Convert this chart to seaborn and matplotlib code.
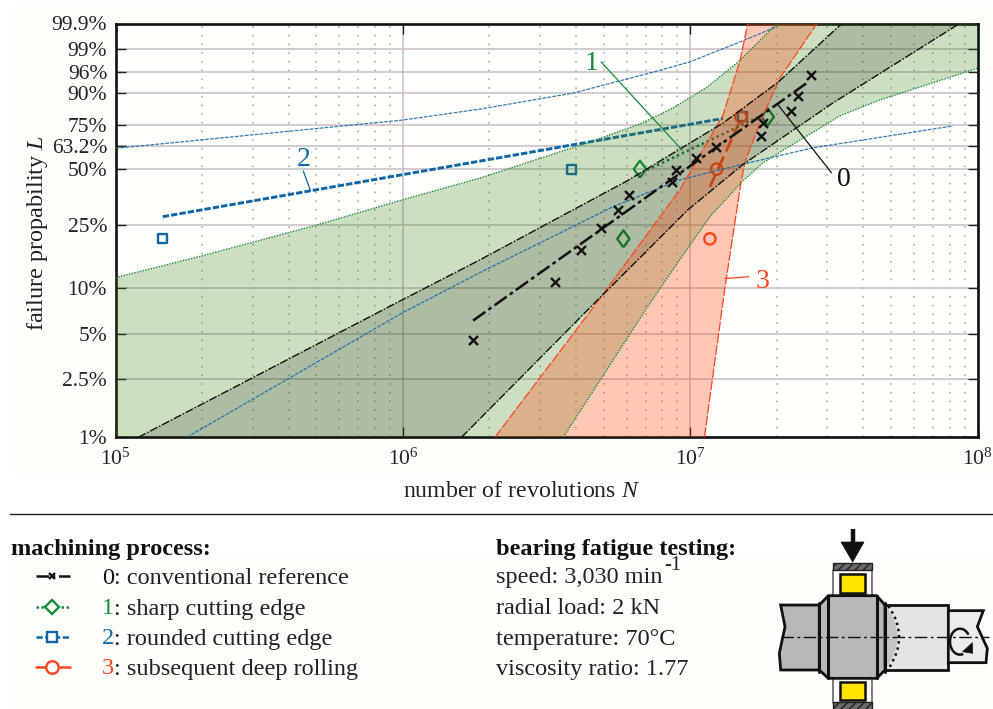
import matplotlib
matplotlib.use("Agg")
import matplotlib.pyplot as plt
import numpy as np
import pandas as pd
import seaborn as sns
from matplotlib.patches import Arc, PathPatch, Polygon, Rectangle
from matplotlib.path import Path

# measured points, N = revolutions, L = failure probability in %
ref_N = [1.755e6, 3.385e6, 4.157e6, 4.89e6, 5.59e6, 6.11e6, 8.65e6, 8.89e6,
         1.049e7, 1.228e7, 1.76e7, 1.793e7, 2.233e7, 2.373e7, 2.62e7]
ref_L = [4.53, 11.0, 17.7, 23.9, 30.3, 37.0, 43.4, 49.6, 56.1, 62.8, 69.1, 76.1, 82.4, 88.8, 95.3]
rank_L = [20.6, 50, 79.4]
sharp_N = [5.85e6, 6.68e6, 1.86e7]
round_N = [1.46e5, 3.85e6, 1.52e7]
roll_N = [1.17e7, 1.235e7, 1.50e7]

# fitted lines
fit0_N, fit0_L = [1.755e6, 2.565e7], [6.15, 93.5]
fit1_N, fit1_L = [7.07e6, 1.79e7], [49.5, 80.4]
fit2_N, fit2_L = [1.46e5, 1.30e7], [27.9, 78.6]
fit3_N, fit3_L = [1.17e7, 1.51e7], [40.8, 79.4]

# confidence bands
b0_up_N = [1.20e5, 1.00e6, 1.86e6, 6.03e6, 1.30e7, 2.02e7, 3.37e7]
b0_up_L = [1, 8.47, 15.3, 43.8, 76.2, 93.5, 99.9]
b0_lo_N = [1.60e6, 4.48e6, 9.82e6, 1.52e7, 3.13e7, 8.65e7]
b0_lo_L = [1, 7.5, 30.6, 52.4, 86.0, 99.9]
b1_up_N = [1e5, 2.01e5, 5.04e5, 1e6, 1.86e6, 4.48e6, 6.68e6, 8.70e6, 1.143e7, 1.49e7, 2.00e7]
b1_up_L = [11.75, 16.2, 25.0, 34.8, 45.3, 65.5, 75.7, 83.8, 92.0, 97.9, 99.9]
b1_lo_N = [3.61e6, 7.07e6, 9.2e6, 1.17e7, 1.50e7, 1.79e7, 2.17e7, 2.76e7, 3.31e7, 4.56e7, 1e8]
b1_lo_L = [1, 7.5, 15.3, 27.9, 42.8, 53.5, 62.1, 72.4, 79.9, 87.3, 96.7]
b2_up_N = [1e5, 1e6, 1.86e6, 3.91e6, 7.84e6, 9.97e6, 1.49e7, 2.00e7]
b2_up_L = [61.8, 77.8, 83.3, 90.0, 96.3, 97.7, 99.43, 99.86]
b2_lo_N = [1.77e5, 1e6, 1.86e6, 5.38e6, 9.2e6, 1.49e7, 2.67e7, 8.19e7]
b2_lo_L = [1, 6.95, 12.7, 31.8, 44.3, 52.4, 62.1, 74.6]
b3_up_N = [2.09e6, 4.59e6, 9.2e6, 1.30e7, 1.49e7, 1.585e7]
b3_up_L = [1, 7.5, 39.3, 80.4, 97.9, 99.9]
b3_lo_N = [1.12e7, 1.32e7, 1.50e7, 1.55e7, 1.746e7, 2.05e7, 2.76e7]
b3_lo_L = [1, 10.1, 42.8, 54.0, 76.2, 94.6, 99.9]

y_ticks = [1, 2.5, 5, 10, 25, 50, 63.2, 75, 90, 96, 99, 99.9]
y_labels = ["1%", "2.5%", "5%", "10%", "25%", "50%", "63.2%", "75%", "90%", "96%", "99%", "99.9%"]
x_ticks = [1e5, 1e6, 1e7, 1e8]
x_labels = ["$10^{5}$", "$10^{6}$", "$10^{7}$", "$10^{8}$"]

BLACK = "#111111"
GREEN = "#158a3a"
BLUE = "#0f66a8"
RED = "#ff4422"
SERIF = "Liberation Serif"

sns.set_theme(style="ticks")
plt.rcParams["font.family"] = [SERIF, "DejaVu Serif"]
plt.rcParams["mathtext.fontset"] = "custom"
plt.rcParams["mathtext.rm"] = SERIF
plt.rcParams["mathtext.it"] = SERIF + ":italic"


def weibull(p):
    p = np.clip(np.asarray(p, dtype=float), 1e-6, 100 - 1e-6)
    return np.log(-np.log(1 - p / 100))


def weibull_inv(y):
    return 100 * (1 - np.exp(-np.exp(np.asarray(y, dtype=float))))


def line(ax, x, y, **kw):
    df = pd.DataFrame({"N": x, "L": y})
    sns.lineplot(data=df, x="N", y="L", sort=False, estimator=None, errorbar=None, ax=ax, **kw)


def points(ax, x, y, **kw):
    df = pd.DataFrame({"N": x, "L": y})
    sns.scatterplot(data=df, x="N", y="L", ax=ax, **kw)


fig = plt.figure(figsize=(9.93, 7.09), dpi=100, facecolor="white")
for y0, y1 in [(5, 477), (555, 709)]:
    fig.add_artist(Rectangle((10 / 993, 1 - y1 / 709), 983 / 993, (y1 - y0) / 709,
                             transform=fig.transFigure, color="#fefefb", lw=0, zorder=-5))

ax = fig.add_axes([115.5 / 993, 1 - 437.3 / 709, 862.2 / 993, 413.8 / 709])
ax.set_facecolor("#fffffb")

# fits and points lie under the bands
line(ax, fit2_N, fit2_L, color=BLUE, linewidth=2.1, linestyle=(0, (2.2, 0.7)), zorder=2)
line(ax, fit3_N, fit3_L, color=RED, linewidth=2, linestyle=(0, (5, 2)), zorder=2)
line(ax, fit1_N, fit1_L, color=GREEN, linewidth=1.8, linestyle=(0, (1, 1.2)), zorder=2)
points(ax, round_N, rank_L, marker="s", s=42, facecolor="none", edgecolor=BLUE, linewidth=1.7, zorder=2)
points(ax, roll_N, rank_L, marker="o", s=66, facecolor="none", edgecolor=RED, linewidth=1.7, zorder=2)
points(ax, sharp_N, rank_L, marker=[(0, -1), (0.72, 0), (0, 1), (-0.72, 0), (0, -1)], s=150,
       facecolor="none", edgecolor=GREEN, linewidth=1.7, zorder=2)

# bands
ax.fill(b1_up_N + [1e8] + b1_lo_N[::-1] + [1e5], b1_up_L + [99.9] + b1_lo_L[::-1] + [1],
        color="#378313", alpha=0.25, lw=0, zorder=3)
ax.fill(b0_up_N + b0_lo_N[::-1], b0_up_L + b0_lo_L[::-1], color="black", alpha=0.15, lw=0, zorder=3)
ax.fill(b3_up_N + b3_lo_N[::-1], b3_up_L + b3_lo_L[::-1], color="#ff4812", alpha=0.30, lw=0, zorder=3)

line(ax, b1_up_N, b1_up_L, color=GREEN, linewidth=1, linestyle=(0, (1, 1)), zorder=4)
line(ax, b1_lo_N, b1_lo_L, color=GREEN, linewidth=1, linestyle=(0, (1, 1)), zorder=4)
line(ax, b2_up_N, b2_up_L, color=BLUE, alpha=0.85, linewidth=0.9, linestyle=(0, (3, 1)), zorder=4)
line(ax, b2_lo_N, b2_lo_L, color=BLUE, alpha=0.85, linewidth=0.9, linestyle=(0, (3, 1)), zorder=4)
line(ax, b3_up_N, b3_up_L, color=RED, linewidth=0.9, linestyle=(0, (8, 1.5)), zorder=4)
line(ax, b3_lo_N, b3_lo_L, color=RED, linewidth=0.9, linestyle=(0, (8, 1.5)), zorder=4)
line(ax, b0_up_N, b0_up_L, color=BLACK, linewidth=1, linestyle=(0, (6, 1.2, 1.2, 1.2)), zorder=4)
line(ax, b0_lo_N, b0_lo_L, color=BLACK, linewidth=1, linestyle=(0, (6, 1.2, 1.2, 1.2)), zorder=4)

line(ax, fit0_N, fit0_L, color=BLACK, linewidth=1.8, linestyle=(0, (6, 1.5, 1.5, 1.5)), zorder=5)
points(ax, ref_N, ref_L, marker="x", s=42, color=BLACK, linewidth=1.7, zorder=5)

ax.set_xscale("log")
ax.set_yscale("function", functions=(weibull, weibull_inv))
ax.set_xlim(1e5, 1e8)
ax.set_ylim(1, 99.9)
ax.set_xticks(x_ticks, x_labels)
ax.set_yticks(y_ticks, y_labels)
ax.minorticks_off()
ax.xaxis.set_minor_locator(matplotlib.ticker.LogLocator(base=10, subs=range(2, 10), numticks=20))
ax.yaxis.set_minor_locator(matplotlib.ticker.NullLocator())
ax.tick_params(axis="both", which="major", direction="in", length=7, width=1, color="#222222",
               top=True, right=True, labelsize=15.5, labelcolor="#222222")
ax.tick_params(axis="x", which="minor", length=0)
ax.tick_params(axis="x", pad=8)
ax.tick_params(axis="y", pad=6)
ax.grid(True, which="major", color="#c9bcc4", linewidth=1.1)
ax.grid(True, which="minor", axis="x", color="#a0a098", linewidth=1.1, linestyle=(0, (1, 4.7)))
ax.set_axisbelow(True)
for s in ax.spines.values():
    s.set_linewidth(1.9)
    s.set_color("#111111")
ax.set_xlabel("number of revolutions $\\mathit{N}$", fontsize=17.2, color="#222222")
ax.set_ylabel("failure propability $\\mathit{L}$", fontsize=17.5, color="#222222")
ax.xaxis.set_label_coords((522 - 115.5) / 862.2, -(492 - 437.3) / 413.8, transform=ax.transAxes)
ax.yaxis.set_label_coords(-(115.5 - 37) / 862.2, (437.3 - 233) / 413.8, transform=ax.transAxes)
ax.xaxis.label.set_verticalalignment("center")
ax.yaxis.label.set_verticalalignment("center")

# callouts
ax.plot([4.89e6, 9.35e6], [97.7, 60.9], color=GREEN, lw=0.9, zorder=6)
ax.plot([4.50e5, 4.76e5], [49.0, 39.3], color=BLUE, lw=0.9, zorder=6)
ax.plot([1.60e7, 1.32e7], [11.9, 11.6], color=RED, lw=0.9, zorder=6)
ax.plot([3.10e7, 2.02e7], [48.0, 85.2], color=BLACK, lw=0.9, zorder=6)
for txt, x, y, c in [("1", 4.52e6, 97.5, GREEN), ("2", 4.50e5, 55.2, BLUE),
                     ("3", 1.79e7, 11.1, RED), ("0", 3.42e7, 44.3, BLACK)]:
    ax.text(x, y, txt, color=c, fontsize=20, ha="center", va="center", zorder=6)

# lower panel in pixel coordinates
ov = fig.add_axes([0, 0, 1, 1])
ov.set_xlim(0, 993)
ov.set_ylim(709, 0)
ov.axis("off")
ov.plot([10, 993], [514, 514], color="#222222", lw=1)

rows_y = [576, 607, 637, 667]
digits = ["0", "1", "2", "3"]
names = [": conventional reference", ": sharp cutting edge", ": rounded cutting edge", ": subsequent deep rolling"]
colors = [BLACK, GREEN, BLUE, RED]
styles = [(0, (5, 1.5, 1, 1.5)), (0, (1, 1)), (0, (2.5, 1)), "-"]
marks = ["x", "D", "s", "o"]
msize = [5, 7, 6.5, 9]
TXT = 17.5

ov.text(11, 549, "machining process:", fontsize=TXT, fontweight="bold", va="center", color="#111111")
for y, d, n, c, st, m, ms in zip(rows_y, digits, names, colors, styles, marks, msize):
    ov.plot([36, 70], [y, y], color=c, lw=1.8, linestyle=st)
    ov.plot([52], [y], marker=m, ms=ms, mfc="#fefefb", mec=c, mew=1.7, ls="none")
    ov.text(102, y + 2, d, color=c, fontsize=TXT, va="center")
    ov.text(114, y + 2, n, color="#222222", fontsize=TXT, va="center")

ov.text(496, 549, "bearing fatigue testing:", fontsize=TXT, fontweight="bold", va="center", color="#111111")
test_info = ["speed: 3,030 min", "radial load: 2 kN", "temperature: 70°C", "viscosity ratio: 1.77"]
for y, t in zip(rows_y, test_info):
    ov.text(496, y + 2, t, color="#222222", fontsize=TXT, va="center")
ov.text(664, 565, "-1", color="#222222", fontsize=15, va="center")


# bearing sketch, coordinates measured on a 3x crop
def zx(v):
    return 740 + v / 3


def zy(v):
    return 520 + v / 3


def poly(pts, fc, ec="#111111", lw=2, z=2):
    ov.add_patch(Polygon([(zx(a), zy(b)) for a, b in pts], closed=True, fc=fc, ec=ec, lw=lw, zorder=z))


ov.plot([zx(338), zx(338)], [zy(28), zy(70)], color="#111111", lw=3.2, zorder=3, solid_capstyle="butt")
poly([(303, 66), (372, 66), (338, 126)], "#111111", lw=0.5, z=3)
for top, bot in [(128, 150), (545, 575)]:
    ov.add_patch(Rectangle((zx(278), zy(top)), 39, (bot - top) / 3, fc="#6a6a6a", ec="#222222",
                           hatch="////", lw=1, zorder=2))
for xv in [278, 395]:
    ov.plot([zx(xv), zx(xv)], [zy(150), zy(228)], color="#666666", lw=1.2, zorder=1)
    ov.plot([zx(xv), zx(xv)], [zy(475), zy(550)], color="#666666", lw=1.2, zorder=1)
for top, bot in [(162, 218), (485, 541)]:
    ov.add_patch(Rectangle((zx(300), zy(top)), 25, (bot - top) / 3, fc="#ffe600", ec="#111111", lw=1.8, zorder=2))

poly([(435, 255), (625, 255), (625, 450), (435, 450)], "#e4e4e4")
poly([(625, 272), (730, 272), (712, 320), (742, 385), (738, 428), (625, 428)], "#ececec")
poly([(122, 255), (238, 255), (238, 450), (122, 450), (118, 400), (135, 320)], "#b8b8b8")
ov.add_patch(PathPatch(Path([(zx(435), zy(255)), (zx(510), zy(350)), (zx(435), zy(450)), (zx(435), zy(255))],
                            [Path.MOVETO, Path.CURVE3, Path.CURVE3, Path.CLOSEPOLY]),
                       fc="#c4c4c4", ec="none", zorder=2.5))
ov.add_patch(PathPatch(Path([(zx(445), zy(258)), (zx(510), zy(350)), (zx(445), zy(447))],
                            [Path.MOVETO, Path.CURVE3, Path.CURVE3]),
                       fc="none", ec="#111111", lw=1.8, linestyle=(0, (1, 1.5)), zorder=3))
poly([(238, 255), (265, 227), (410, 227), (435, 255), (435, 450), (410, 475), (265, 475), (238, 450)],
     "#b8b8b8", z=2.2)
for xv in [238, 265, 410, 435]:
    ov.plot([zx(xv), zx(xv)], [zy(250 if xv in (238, 435) else 227), zy(455 if xv in (238, 435) else 475)],
            color="#111111", lw=2.2, zorder=3)
ov.plot([zx(122), zx(748)], [zy(350), zy(350)], color="#111111", lw=1, linestyle=(0, (9, 2.5, 2, 2.5)), zorder=4)
ov.add_patch(Arc((zx(660), zy(365)), 20, 26, theta1=75, theta2=320, color="#111111", lw=1.8, zorder=4))
poly([(697, 368), (668, 395), (698, 400)], "#111111", lw=0.5, z=4)

fig.savefig("out.png", dpi=100)
